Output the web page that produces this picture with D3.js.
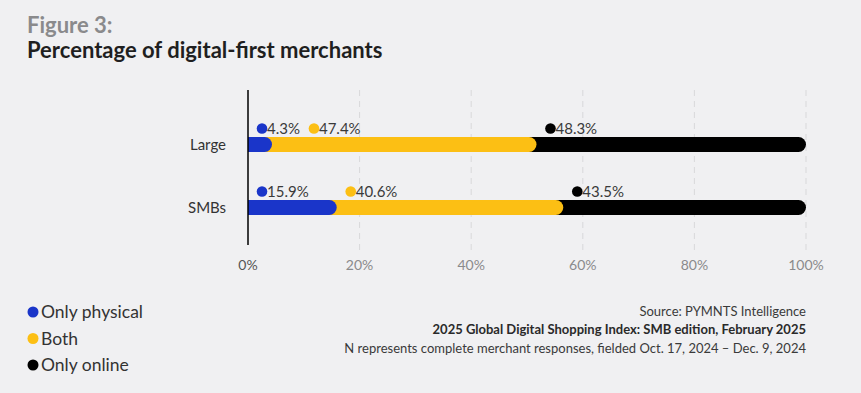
<!DOCTYPE html>
<html>
<head>
<meta charset="utf-8">
<script src="https://cdn.jsdelivr.net/npm/d3@7"></script>
<style>
  html, body { margin: 0; padding: 0; background: #f0f0f2; }
  svg { display: block; font-family: Lato, "Open Sans", sans-serif; }
</style>
</head>
<body>
<div id="viz"></div>
<script>
// Data.
const CATEGORIES = ["Large", "SMBs"];
const SERIES = ["Only physical", "Both", "Only online"];
const VALUES = {
  "Only physical": [4.3, 15.9],
  "Both": [47.4, 40.6],
  "Only online": [48.3, 43.5]
};
const TICKS = [0, 20, 40, 60, 80, 100];
const COLORS = ["#1a35c9", "#fcbf14", "#000000"];

const W = 861, H = 393;
const svg = d3.select("#viz").append("svg")
  .attr("width", W)
  .attr("height", H);

svg.append("rect").attr("width", W).attr("height", H).attr("fill", "#f0f0f2");

// Header
svg.append("text")
  .attr("x", 27).attr("y", 33)
  .attr("fill", "#8a8a8c")
  .attr("font-weight", 700)
  .attr("font-size", 22)
  .text("Figure 3:");

svg.append("text")
  .attr("x", 27).attr("y", 58)
  .attr("fill", "#1f1f1f")
  .attr("font-weight", 700)
  .attr("font-size", 22)
  .text("Percentage of digital-first merchants");

const x = d3.scaleLinear().domain([0, 100]).range([248, 806]);
const y = d3.scaleBand().domain(CATEGORIES).range([113, 239]).padding(0);
const barH = 15;

// Grid
svg.append("g")
  .selectAll("line")
  .data(TICKS.slice(1))
  .join("line")
  .attr("x1", d => x(d)).attr("x2", d => x(d))
  .attr("y1", 90).attr("y2", 252)
  .attr("stroke", "#d8d8da")
  .attr("stroke-width", 1)
  .attr("stroke-dasharray", "6,5");

// Tick labels
svg.append("g")
  .selectAll("text")
  .data(TICKS)
  .join("text")
  .attr("x", d => x(d))
  .attr("y", 270)
  .attr("text-anchor", "middle")
  .attr("font-size", 14)
  .attr("fill", d => d === 0 ? "#555" : "#8a8a8c")
  .text(d => d + "%");

// Stacked segments
const stacked = CATEGORIES.map((c, i) => {
  let acc = 0;
  return SERIES.map((s, k) => {
    const v = VALUES[s][i];
    const seg = { cat: c, series: s, k, start: acc, end: acc + v, value: v };
    acc += v;
    return seg;
  });
});

const rows = svg.append("g")
  .selectAll("g")
  .data(stacked)
  .join("g")
  .attr("transform", (d, i) => `translate(0,${y(CATEGORIES[i]) + y.bandwidth() / 2})`);

rows.each(function (segs) {
  const g = d3.select(this);
  // draw back to front so rounded caps overlap the next segment
  segs.slice().reverse().forEach(s => {
    const x0 = x(0), x1 = x(Math.min(s.end, 100));
    const r = barH / 2;
    const path = d3.path();
    path.moveTo(x0, -r);
    path.lineTo(x1 - r, -r);
    path.arc(x1 - r, 0, r, -Math.PI / 2, Math.PI / 2);
    path.lineTo(x0, r);
    path.closePath();
    g.append("path").attr("d", path.toString()).attr("fill", COLORS[s.k]);
  });

  // labels with dots above each segment
  let prevEnd = -Infinity;
  segs.forEach(s => {
    const dx = Math.max(x(s.start) + 14, prevEnd + 14);
    const ly = -10.5;
    g.append("circle")
      .attr("cx", dx).attr("cy", ly - 5.5)
      .attr("r", 5.3)
      .attr("fill", COLORS[s.k]);
    const t = g.append("text")
      .attr("x", dx + 5)
      .attr("y", ly)
      .attr("font-size", 15)
      .attr("fill", "#3a3a3a")
      .text(s.value.toFixed(1) + "%");
    prevEnd = dx + 5 + t.node().getComputedTextLength();
  });
});

// Category labels
svg.append("g")
  .selectAll("text")
  .data(CATEGORIES)
  .join("text")
  .attr("x", 226)
  .attr("y", d => y(d) + y.bandwidth() / 2 + 5.5)
  .attr("text-anchor", "end")
  .attr("font-size", 15)
  .attr("fill", "#333")
  .text(d => d);

// Axis line
svg.append("line")
  .attr("x1", x(0)).attr("x2", x(0))
  .attr("y1", 90).attr("y2", 245)
  .attr("stroke", "#000")
  .attr("stroke-width", 1.5);

// Legend
const legend = svg.append("g")
  .selectAll("g")
  .data(SERIES)
  .join("g")
  .attr("transform", (d, i) => `translate(33,${312 + i * 26.5})`);

legend.append("circle").attr("r", 5.5).attr("fill", (d, i) => COLORS[i]);
legend.append("text")
  .attr("x", 8).attr("y", 6)
  .attr("font-size", 17.5)
  .attr("fill", "#333")
  .text(d => d);

// Source
const src = [
  { t: "Source: PYMNTS Intelligence", w: 400, y: 316 },
  { t: "2025 Global Digital Shopping Index: SMB edition, February 2025", w: 700, y: 334 },
  { t: "N represents complete merchant responses, fielded Oct. 17, 2024 \u2013 Dec. 9, 2024", w: 400, y: 353 }
];
svg.append("g")
  .selectAll("text")
  .data(src)
  .join("text")
  .attr("x", 806)
  .attr("y", d => d.y)
  .attr("text-anchor", "end")
  .attr("font-size", 13)
  .attr("font-weight", d => d.w)
  .attr("fill", d => d.w === 700 ? "#2a2a2a" : "#3a3a3a")
  .text(d => d.t);
</script>
</body>
</html>
